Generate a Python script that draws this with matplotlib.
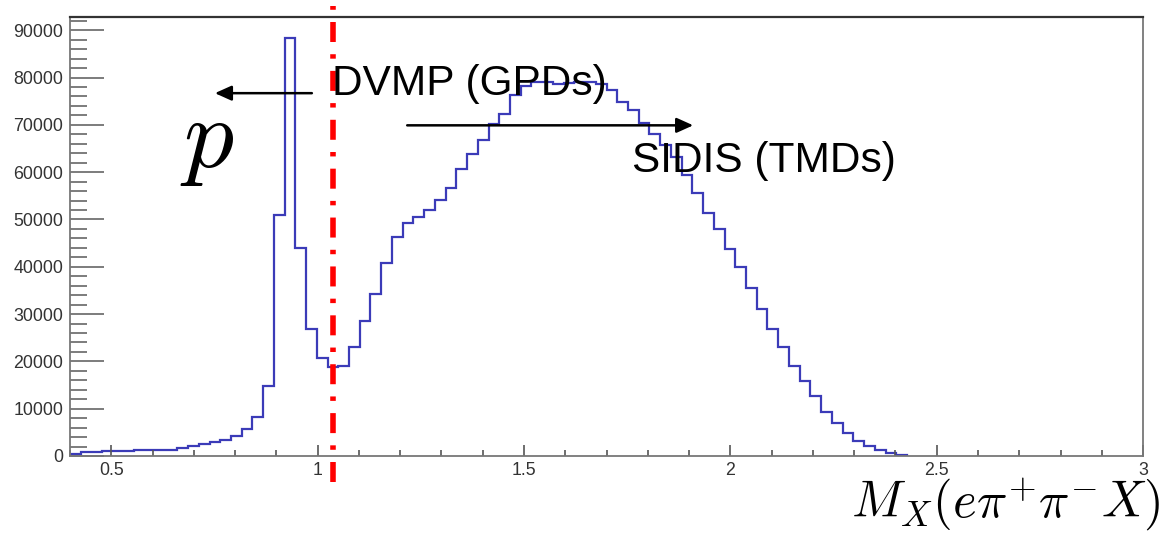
import numpy as np
import matplotlib
matplotlib.use("Agg")
import matplotlib.pyplot as plt
from matplotlib.ticker import MultipleLocator

plt.rcParams["font.family"] = ["Liberation Sans", "DejaVu Sans"]
plt.rcParams["mathtext.fontset"] = "cm"

# histogram: 100 bins of width 0.026 starting at 0.4, only the filled ones listed
bin_lo = 0.4
bin_width = 0.026
counts = [
    500, 900, 900, 950, 950, 1000, 1200, 1250, 1300, 1300,
    1600, 2100, 2500, 3000, 3400, 4200, 5800, 8200, 14700, 50900,
    88300, 43900, 26800, 20800, 18800, 19100, 23100, 28600, 34200, 40700,
    46300, 49200, 50600, 52100, 54200, 56700, 60600, 63800, 66800, 70200,
    72400, 76400, 78200, 79100, 79100, 78600, 78800, 79000, 79000, 78600,
    77400, 74900, 73100, 70400, 68000, 65700, 63300, 59400, 55500, 51400,
    48000, 43700, 40000, 35500, 31000, 26800, 23100, 19100, 15900, 12700,
    9400, 6900, 4900, 3200, 2100, 1270, 570, 150,
]
cut_x = 1.037

x_range = (0.4, 3.0)
y_max = 92800
y_ticks = list(range(0, 90001, 10000))
x_ticks = [0.5, 1, 1.5, 2, 2.5, 3]
x_ticklabels = ["0.5", "1", "1.5", "2", "2.5", "3"]


def main():
    fig = plt.figure(figsize=(11.69, 5.35), dpi=100)
    ax = fig.add_axes([0.0599, 0.1477, 0.9179, 0.8205])

    edges = bin_lo + bin_width * np.arange(len(counts) + 1)
    ax.stairs(counts, edges, color="#3b3bb8", linewidth=1.6, baseline=0)

    ax.set_xlim(*x_range)
    ax.set_ylim(0, y_max)
    ax.set_yticks(y_ticks)
    ax.set_yticklabels([str(v) for v in y_ticks])
    ax.set_xticks(x_ticks)
    ax.set_xticklabels(x_ticklabels)
    ax.yaxis.set_minor_locator(MultipleLocator(2000))
    ax.xaxis.set_minor_locator(MultipleLocator(0.1))

    ax.tick_params(axis="y", which="major", direction="in", length=24.5, width=1.2,
                   color="#666666", labelsize=12.8, labelcolor="#333333", pad=5)
    ax.tick_params(axis="y", which="minor", direction="in", length=12, width=1.2, color="#666666")
    ax.tick_params(axis="x", which="major", direction="in", length=8, width=1.2,
                   color="#555555", labelsize=12.8, labelcolor="#333333", pad=4)
    ax.tick_params(axis="x", which="minor", direction="in", length=4.3, width=1.2, color="#555555")

    for side in ["left", "bottom", "right"]:
        ax.spines[side].set_color("#777777")
        ax.spines[side].set_linewidth(1.3)
    ax.spines["top"].set_color("#333333")
    ax.spines["top"].set_linewidth(1.6)

    # red dash-dot cut line, runs a bit past the frame
    trans = ax.get_xaxis_transform()
    ax.plot([cut_x, cut_x], [-0.06, 1.025], transform=trans, color="#ff0000",
            linewidth=4, dashes=(3.6, 2.2, 0.8, 2.2), clip_on=False, zorder=5)

    # arrows
    ax.annotate("", xy=(0.751, 76700), xytext=(0.986, 76700),
                arrowprops=dict(arrowstyle="-|>,head_length=1.0,head_width=0.45",
                                color="black", lw=1.8, shrinkA=0, shrinkB=0))
    ax.annotate("", xy=(1.91, 69900), xytext=(1.217, 69900),
                arrowprops=dict(arrowstyle="-|>,head_length=1.0,head_width=0.45",
                                color="black", lw=1.8, shrinkA=0, shrinkB=0))

    ax.text(1.035, 76300, "DVMP (GPDs)", fontsize=30.5, va="baseline", ha="left", zorder=6)
    ax.text(1.762, 60000, "SIDIS (TMDs)", fontsize=30.5, va="baseline", ha="left", zorder=6)
    ax.text(0.667, 61000, "$p$", fontsize=72, va="baseline", ha="left")

    fig.text(0.9923, 0.032, r"$M_X(e\pi^{+}\pi^{-}X)$", fontsize=36.5,
             ha="right", va="baseline")

    fig.savefig("out.png", dpi=100, facecolor="white")


if __name__ == "__main__":
    main()
